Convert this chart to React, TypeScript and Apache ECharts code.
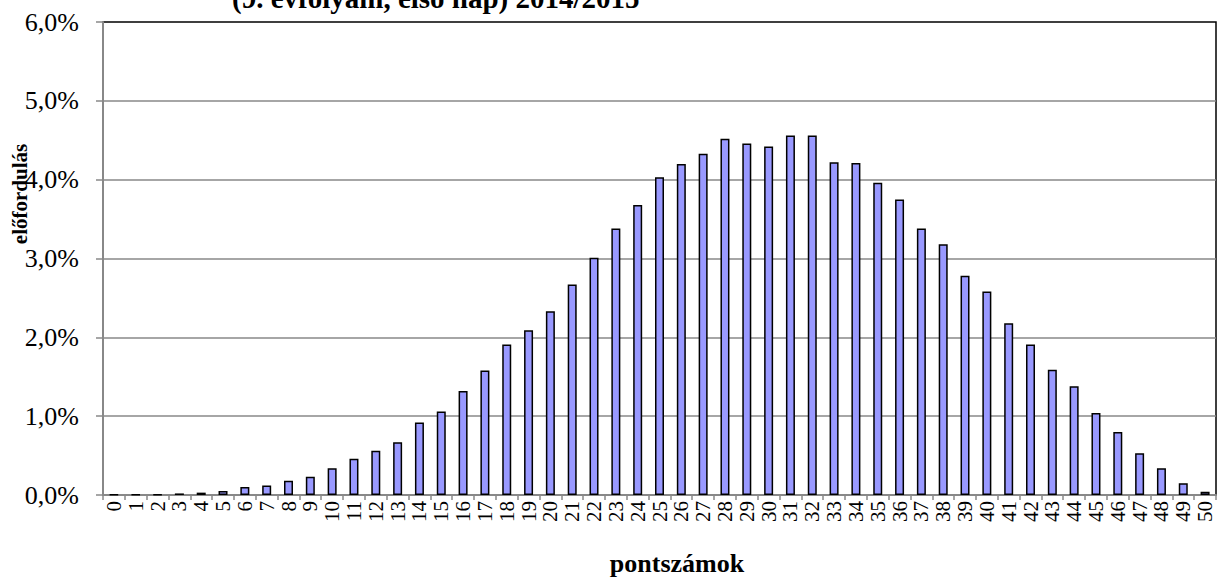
import React, { useEffect, useRef } from "react";
import * as echarts from "echarts";

const categories: string[] = Array.from({ length: 51 }, (_, i) => String(i));
const values: number[] = [
  0.005, 0.005, 0.005, 0.02, 0.03, 0.05, 0.1, 0.12, 0.18, 0.23,
  0.34, 0.46, 0.56, 0.67, 0.92, 1.06, 1.32, 1.58, 1.91, 2.09,
  2.33, 2.67, 3.01, 3.38, 3.68, 4.03, 4.2, 4.33, 4.52, 4.46,
  4.42, 4.56, 4.56, 4.22, 4.21, 3.96, 3.75, 3.38, 3.18, 2.78,
  2.58, 2.18, 1.91, 1.59, 1.38, 1.04, 0.8, 0.53, 0.34, 0.15,
  0.04,
];
const titleText = "(9. évfolyam, első nap) 2014/2015";
const yName = "előfordulás";
const xName = "pontszámok";

export default function App() {
  const ref = useRef<HTMLDivElement>(null);
  useEffect(() => {
    if (!ref.current) return;
    const chart = echarts.init(ref.current, undefined, { renderer: "svg" });
    const font = "'Liberation Serif', 'Times New Roman', serif";
    chart.setOption({
      animation: false,
      backgroundColor: "#ffffff",
      textStyle: { fontFamily: font },
      grid: {
        left: 103,
        right: 3,
        top: 22,
        bottom: 84,
        show: true,
        borderColor: "#000000",
        borderWidth: 1.5,
      },
      graphic: [
        {
          type: "text",
          left: 232,
          top: -17,
          style: {
            text: titleText,
            font: `bold 29px ${font}`,
            fill: "#000",
          },
        },
        {
          type: "text",
          x: 20,
          y: 194,
          rotation: Math.PI / 2,
          style: {
            text: yName,
            font: `bold 21px ${font}`,
            fill: "#000",
            align: "center",
            verticalAlign: "middle",
          },
        },
        {
          type: "text",
          x: 677,
          y: 563,
          style: {
            text: xName,
            font: `bold 26px ${font}`,
            fill: "#000",
            align: "center",
            verticalAlign: "middle",
          },
        },
      ],
      xAxis: {
        type: "category",
        data: categories,
        axisLine: { lineStyle: { color: "#888888", width: 2 } },
        axisTick: { show: true, length: 5, lineStyle: { color: "#888888", width: 1.5 } },
        axisLabel: {
          rotate: 90,
          interval: 0,
          margin: 6,
          fontSize: 21,
          color: "#000",
          fontFamily: font,
        },
      },
      yAxis: {
        type: "value",
        min: 0,
        max: 6,
        interval: 1,
        axisLine: { show: true, lineStyle: { color: "#888888", width: 2 } },
        axisTick: { show: true, length: 7, lineStyle: { color: "#888888", width: 1.5 } },
        splitLine: { showMaxLine: false, showMinLine: false, lineStyle: { color: "#888888", width: 1.5 } },
        axisLabel: {
          fontSize: 26,
          color: "#000",
          margin: 24,
          fontFamily: font,
          formatter: (v: number) => v.toFixed(1).replace(".", ",") + "%",
        },
      },
      series: [
        {
          type: "bar",
          data: values,
          barWidth: 9,
          itemStyle: { color: "#9999FF", borderColor: "#000000", borderWidth: 1.5 },
        },
      ],
    });
    return () => chart.dispose();
  }, []);
  return (
    <div
      ref={ref}
      style={{ position: "absolute", left: 0, top: 0, width: 1219, height: 579 }}
    />
  );
}
